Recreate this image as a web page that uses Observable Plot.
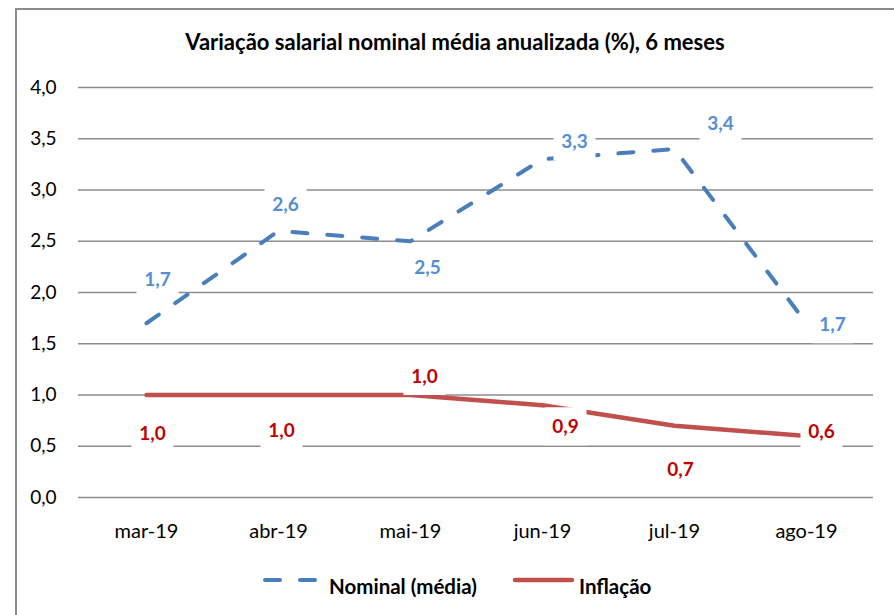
<!DOCTYPE html>
<html>
<head>
<meta charset="utf-8">
<script src="https://cdn.jsdelivr.net/npm/d3@7"></script>
<script src="https://cdn.jsdelivr.net/npm/@observablehq/plot@0.6"></script>
<style>
  body { margin: 0; background: #fff; font-family: Lato, "Open Sans", sans-serif; }
  #frame { position: absolute; left: 15px; top: 8px; width: 900px; height: 700px; border-left: 2px solid #8c8c8c; border-top: 2px solid #8c8c8c; }
  #title { position: absolute; left: 0; top: 28px; width: 910px; text-align: center; font: bold 22px Lato, sans-serif; color: #000; }
  #chart { position: absolute; left: 0; top: 60px; }
  #legend { position: absolute; top: 0; left: 0; width: 894px; font: bold 20.5px Lato, sans-serif; color: #000; }
  .lg { position: absolute; line-height: 24px; }
</style>
</head>
<body>
<div id="frame"></div>
<div id="title">Variação salarial nominal média anualizada (%), 6 meses</div>
<div id="chart"></div>
<div id="legend">
  <svg class="lg" style="left:262px;top:568px" width="62" height="24"><line x1="3" y1="12" x2="60" y2="12" stroke="#4a7ebb" stroke-width="4" stroke-dasharray="15,20" stroke-linecap="round"/></svg>
  <span class="lg" style="left:329px;top:574px">Nominal (média)</span>
  <svg class="lg" style="left:512px;top:568px" width="64" height="24"><line x1="3" y1="12" x2="60" y2="12" stroke="#c0504d" stroke-width="4.5" stroke-linecap="round"/></svg>
  <span class="lg" style="left:579px;top:574px">Inflação</span>
</div>
<script>
// ---- data ----
const months = ["mar-19", "abr-19", "mai-19", "jun-19", "jul-19", "ago-19"];
const nominal = [1.7, 2.6, 2.5, 3.3, 3.4, 1.7];
const inflacao = [1.0, 1.0, 1.0, 0.9, 0.7, 0.6];
const yTicks = [0, 0.5, 1, 1.5, 2, 2.5, 3, 3.5, 4];

// ---- layout (label offsets in px) ----
const nomOffsets = [[11, -43], [7, -26], [17, 27], [32, -17], [46, -25], [26, 2]];
const infOffsets = [[6, 39], [3, 36], [14, -18], [23, 22], [6, 44], [15, -4]];

const fmt = v => v.toFixed(1).replace(".", ",");
const nomData = months.map((m, i) => ({month: m, value: nominal[i]}));
const infData = months.map((m, i) => ({month: m, value: inflacao[i]}));

const boxSymbol = { draw(ctx) { ctx.moveTo(-21, -20); ctx.lineTo(21, -20); ctx.lineTo(21, 18); ctx.lineTo(-21, 18); ctx.closePath(); } };

function labelMarks(data, offsets, color) {
  const boxes = data.map((d, i) => Plot.dot([d], {x: "month", y: "value", dx: offsets[i][0], dy: offsets[i][1], symbol: boxSymbol, fill: "white", stroke: "none"}));
  const texts = data.map((d, i) => Plot.text([d], {x: "month", y: "value", text: d => fmt(d.value), dx: offsets[i][0], dy: offsets[i][1], fill: color, fontWeight: "bold", fontSize: 19, fontFamily: "Lato, sans-serif"}));
  return [boxes, texts];
}
const [nb, nt] = labelMarks(nomData, nomOffsets, "#558ed5");
const [ib, it] = labelMarks(infData, infOffsets, "#c00000");

const chart = Plot.plot({
  width: 894,
  height: 500,
  marginLeft: 78,
  marginRight: 21,
  marginTop: 27,
  marginBottom: 63,
  style: {fontFamily: "Lato, sans-serif", fontSize: "19px", color: "#000", background: "transparent"},
  x: {type: "point", domain: months, padding: 0.5, label: null, tickSize: 0, tickPadding: 26, fontSize: 20},
  y: {domain: [0, 4], ticks: yTicks, tickFormat: fmt, label: null, tickSize: 0, tickPadding: 22},
  marks: [
    Plot.ruleY(yTicks, {stroke: "#8c8c8c", strokeWidth: 1.5}),
    Plot.line(infData, {x: "month", y: "value", stroke: "#c0504d", strokeWidth: 4.5, strokeLinecap: "round", strokeLinejoin: "round"}),
    Plot.line(nomData, {x: "month", y: "value", stroke: "#4a7ebb", strokeWidth: 4, strokeDasharray: "15,20", strokeLinecap: "round", strokeLinejoin: "round"}),
    ...nb, ...ib, ...nt, ...it
  ]
});
chart.querySelectorAll('[aria-label="x-axis tick label"] text, g[aria-label="x-axis"] text').forEach(t => t.setAttribute("font-size", "20"));
document.getElementById("chart").appendChild(chart);
</script>
</body>
</html>
